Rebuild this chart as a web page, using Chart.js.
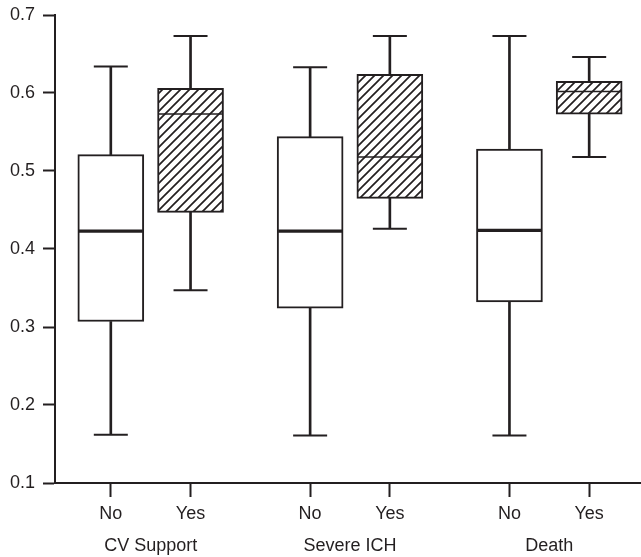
<!DOCTYPE html>
<html>
<head>
<meta charset="utf-8">
<script src="https://cdn.jsdelivr.net/npm/chart.js@4/dist/chart.umd.min.js"></script>
<style>
  html, body { margin: 0; padding: 0; background: #fff; }
  #wrap { width: 641px; height: 557px; }
</style>
</head>
<body>
<div id="wrap"><canvas id="boxChart"></canvas></div>
<script>
// x positions of the boxes on a linear axis (gap between the groups)
const positions = [1, 3, 6, 8, 11, 13];
const tickLabels = ["No", "Yes", "No", "Yes", "No", "Yes"];
const hatched = [false, true, false, true, false, true];
const groupNames = ["CV Support", "Severe ICH", "Death"];
const groupPositions = [2, 7, 12];
const yTicks = [0.1, 0.2, 0.3, 0.4, 0.5, 0.6, 0.7];

// box plot values
const whiskerLow = [0.162, 0.347, 0.161, 0.426, 0.161, 0.518];
const q1 = [0.307, 0.447, 0.324, 0.465, 0.332, 0.573];
const median = [0.423, 0.573, 0.423, 0.518, 0.424, 0.602];
const q3 = [0.521, 0.606, 0.544, 0.624, 0.528, 0.615];
const whiskerHigh = [0.634, 0.673, 0.633, 0.673, 0.673, 0.646];

const INK = "#231f20";
const FONT = "'Liberation Sans', Arial, sans-serif";

function makeHatch() {
  const size = 9;
  const c = document.createElement("canvas");
  c.width = size;
  c.height = size;
  const g = c.getContext("2d");
  g.fillStyle = "#fff";
  g.fillRect(0, 0, size, size);
  g.strokeStyle = INK;
  g.lineWidth = 1.7;
  g.beginPath();
  g.moveTo(-1, size + 1);
  g.lineTo(size + 1, -1);
  g.moveTo(-2, 2);
  g.lineTo(2, -2);
  g.moveTo(size - 2, size + 2);
  g.lineTo(size + 2, size - 2);
  g.stroke();
  return g.createPattern(c, "repeat");
}

const hatch = makeHatch();

const boxData = positions.map((x, i) => ({ x: x, y: [q1[i], q3[i]] }));
const upperData = positions.map((x, i) => ({ x: x, y: [q3[i], whiskerHigh[i]] }));
const lowerData = positions.map((x, i) => ({ x: x, y: [whiskerLow[i], q1[i]] }));
const capData = positions.map((x, i) => ({ x: x, y: whiskerHigh[i] }))
  .concat(positions.map((x, i) => ({ x: x, y: whiskerLow[i] })));
const medianData = positions.map((x, i) => ({ x: x, y: median[i] }));

const xMin = -0.4;
const xMax = 14.3;

new Chart(document.getElementById("boxChart"), {
  type: "bar",
  data: {
    datasets: [
      {
        type: "line",
        data: medianData,
        showLine: false,
        pointStyle: "line",
        pointRadius: 32,
        pointHoverRadius: 32,
        pointBorderColor: INK,
        pointBorderWidth: hatched.map(h => h ? 1.6 : 3.2),
        order: 0
      },
      {
        type: "line",
        data: capData,
        showLine: false,
        pointStyle: "line",
        pointRadius: 17,
        pointHoverRadius: 17,
        pointBorderColor: INK,
        pointBorderWidth: 2,
        order: 1
      },
      {
        data: boxData,
        backgroundColor: hatched.map(h => h ? hatch : "#fff"),
        borderColor: INK,
        borderWidth: 2,
        borderSkipped: false,
        barThickness: 66,
        grouped: false,
        order: 2
      },
      {
        data: upperData,
        backgroundColor: INK,
        borderWidth: 0,
        barThickness: 2,
        grouped: false,
        order: 3
      },
      {
        data: lowerData,
        backgroundColor: INK,
        borderWidth: 0,
        barThickness: 2,
        grouped: false,
        order: 3
      }
    ]
  },
  options: {
    responsive: true,
    maintainAspectRatio: false,
    animation: false,
    layout: { autoPadding: false, padding: { top: 15, right: 0, bottom: 0, left: 0 } },
    plugins: {
      legend: { display: false },
      tooltip: { enabled: false }
    },
    scales: {
      x: {
        type: "linear",
        min: xMin,
        max: xMax,
        offset: false,
        afterBuildTicks: (scale) => {
          scale.ticks = positions.map(v => ({ value: v }));
        },
        afterFit: (scale) => { scale.height = 42; },
        ticks: {
          autoSkip: false,
          maxRotation: 0,
          padding: 6,
          color: INK,
          font: { family: FONT, size: 18 },
          callback: (value) => tickLabels[positions.indexOf(value)]
        },
        grid: {
          offset: false,
          drawOnChartArea: false,
          tickLength: 14,
          tickWidth: 2,
          tickColor: INK
        },
        border: { display: true, color: INK, width: 2 }
      },
      groups: {
        type: "linear",
        position: "bottom",
        weight: 1,
        min: xMin,
        max: xMax,
        offset: false,
        afterBuildTicks: (scale) => {
          scale.ticks = groupPositions.map(v => ({ value: v }));
        },
        afterFit: (scale) => { scale.height = 32; },
        ticks: {
          autoSkip: false,
          maxRotation: 0,
          padding: 10,
          color: INK,
          font: { family: FONT, size: 18 },
          callback: (value) => groupNames[groupPositions.indexOf(value)]
        },
        grid: { display: false, drawTicks: false },
        border: { display: false }
      },
      y: {
        min: 0.1,
        max: 0.7,
        afterBuildTicks: (scale) => {
          scale.ticks = yTicks.map(v => ({ value: v }));
        },
        afterFit: (scale) => {
          scale.width = 55;
          scale.paddingTop = 0;
          scale.paddingBottom = 0;
        },
        ticks: {
          padding: 8,
          color: INK,
          font: { family: FONT, size: 18 },
          callback: (value) => value.toFixed(1)
        },
        grid: {
          drawOnChartArea: false,
          tickLength: 12,
          tickWidth: 2,
          tickColor: INK
        },
        border: { display: true, color: INK, width: 2 }
      }
    }
  }
});
</script>
</body>
</html>
